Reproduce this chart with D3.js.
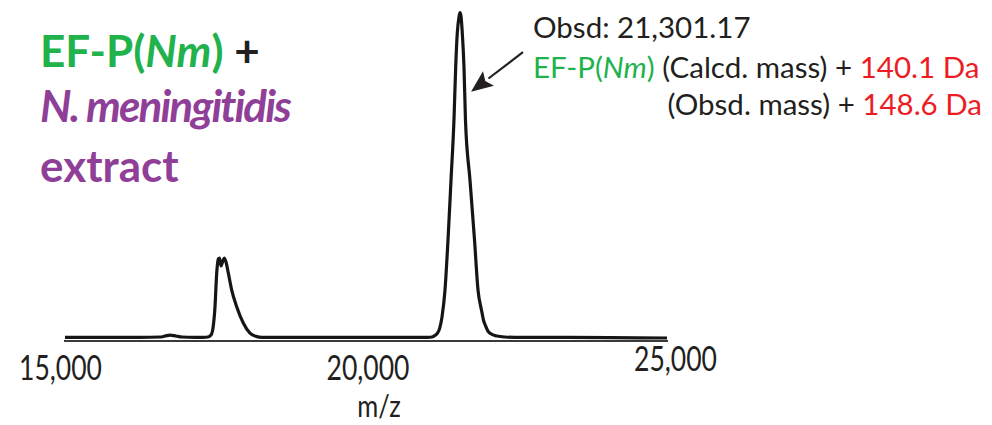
<!DOCTYPE html>
<html lang="en">
<head>
    <meta charset="UTF-8">
    <title>EF-P(Nm) + N. meningitidis extract - mass spectrum</title>
    <script src="https://d3js.org/d3.v7.min.js"></script>
    <style>
        body { margin: 0; background: #fff; }
        text { font-family: Lato, "Open Sans", sans-serif; fill: #231f20; }
        .trace { fill: none; stroke: #151515; stroke-width: 3.2px; stroke-linejoin: round; }
        .baseline { stroke: #3a3a3a; stroke-width: 2px; }
        .tick-label { font-size: 34px; }
    </style>
</head>
<body>
    <svg width="992" height="425"></svg>
    <script>
        // deconvoluted spectrum (m/z, relative intensity)
        const mz = [
            15081, 15650, 16301, 16626, 16707, 16789, 16886, 16984, 17195, 17325,
            17406, 17455, 17488, 17520, 17548, 17574, 17593, 17618, 17642, 17671,
            17699, 17737, 17792, 17873, 17980, 18089, 18187, 18285, 18902, 19715,
            20528, 20984, 21049, 21098, 21138, 21171, 21211, 21260, 21309, 21358,
            21406, 21434, 21460, 21488, 21504, 21520, 21541, 21569, 21593, 21666,
            21740, 21797, 21853, 21886, 21927, 21959, 22024, 22106, 22236, 22398,
            23130, 23943, 24870
        ];
        const intensity = [
            0.2, 0.2, 0.2, 0.3, 0.6, 0.9, 0.6, 0.3, 0.2, 0.2,
            0.3, 0.9, 3.1, 9.5, 19.9, 24.2, 24.5, 22.1, 23.3, 24.5,
            23.3, 19.9, 14.7, 9.6, 4.6, 1.5, 0.5, 0.2, 0.2, 0.2,
            0.2, 0.2, 0.3, 0.8, 1.5, 2.8, 6.4, 14.7, 30.1, 48.5,
            66.9, 83.1, 93.6, 98.5, 99.8, 98.8, 93.6, 83.1, 66.9, 48.5,
            30.1, 14.7, 8.6, 5.5, 3.4, 2.1, 1.1, 0.6, 0.3, 0.2,
            0.2, 0.1, 0.0
        ];
        const tickValues = [15000, 20000, 25000];
        const tickLabels = ["15,000", "20,000", "25,000"];

        // arrow: from tail to head, in data units
        const arrowTail = [22528, 87.7];
        const arrowHead = [21683, 75.5];

        const svg = d3.select("svg"),
            width = +svg.attr("width"),
            height = +svg.attr("height");

        const x = d3.scaleLinear().domain([15000, 25000]).range([60, 675]);
        const y = d3.scaleLinear().domain([0, 100]).range([338, 12]);

        const points = mz.map((m, i) => [m, intensity[i]]);

        svg.append("rect").attr("width", width).attr("height", height).attr("fill", "#fff");

        // baseline under the trace
        svg.append("line")
            .attr("class", "baseline")
            .attr("x1", x(mz[0]) - 1)
            .attr("x2", x(mz[mz.length - 1]) + 1)
            .attr("y1", y(0) + 3)
            .attr("y2", y(0) + 3);

        const line = d3.line()
            .x(d => x(d[0]))
            .y(d => y(d[1]))
            .curve(d3.curveMonotoneX);

        svg.append("path")
            .datum(points)
            .attr("class", "trace")
            .attr("d", line);

        // tick labels (narrow, tall lettering like the original)
        const axis = d3.axisBottom(x)
            .tickValues(tickValues)
            .tickFormat((d, i) => tickLabels[i])
            .tickSize(0)
            .tickPadding(0);

        const gx = svg.append("g")
            .attr("transform", "translate(0,380)")
            .call(axis);
        gx.select(".domain").remove();
        gx.selectAll("text")
            .attr("class", "tick-label")
            .attr("dy", 0)
            .attr("y", 0)
            .attr("transform", "scale(0.78,1)")
            .style("fill", "#231f20");
        gx.selectAll(".tick").filter(d => d === 25000).select("text").attr("y", -9);

        svg.append("text")
            .attr("transform", "translate(379,417) scale(0.85,1)")
            .attr("text-anchor", "middle")
            .style("font-size", "30px")
            .text("m/z");

        // arrow
        const ax1 = x(arrowTail[0]), ay1 = y(arrowTail[1]);
        const ax2 = x(arrowHead[0]), ay2 = y(arrowHead[1]);
        const ang = Math.atan2(ay2 - ay1, ax2 - ax1);
        const headLen = 22, headW = 9;
        const bx = ax2 - headLen * Math.cos(ang), by = ay2 - headLen * Math.sin(ang);
        svg.append("line")
            .attr("x1", ax1).attr("y1", ay1)
            .attr("x2", bx).attr("y2", by)
            .attr("stroke", "#231f20")
            .attr("stroke-width", 2.2);
        svg.append("path")
            .attr("d", d3.line()([
                [ax2, ay2],
                [bx + headW * Math.sin(ang), by - headW * Math.cos(ang)],
                [bx + 4 * Math.cos(ang), by + 4 * Math.sin(ang)],
                [bx - headW * Math.sin(ang), by + headW * Math.cos(ang)]
            ]) + "Z")
            .attr("fill", "#231f20");

        // annotation
        const green = "#22b24c", red = "#ed1c24", purple = "#8f3f97";
        const note = svg.append("g").style("font-size", "29.5px");
        note.append("text").attr("x", 533).attr("y", 38).text("Obsd: 21,301.17");
        const l2 = note.append("text").attr("x", 533).attr("y", 78);
        l2.append("tspan").style("fill", green).text("EF-P(");
        l2.append("tspan").style("fill", green).style("font-style", "italic").text("Nm");
        l2.append("tspan").style("fill", green).text(")");
        l2.append("tspan").text(" (Calcd. mass) + ");
        l2.append("tspan").style("fill", red).text("140.1 Da");
        const l3 = note.append("text").attr("x", 982).attr("y", 115).attr("text-anchor", "end");
        l3.append("tspan").text("(Obsd. mass) + ");
        l3.append("tspan").style("fill", red).text("148.6 Da");

        // title
        const title = svg.append("g").style("font-size", "44px").style("font-weight", "bold");
        const t1 = title.append("text").attr("x", 40).attr("y", 67);
        t1.append("tspan").style("fill", green).text("EF-P(");
        t1.append("tspan").style("fill", green).style("font-style", "italic").text("Nm");
        t1.append("tspan").style("fill", green).text(")");
        t1.append("tspan").text(" +");
        title.append("text").attr("x", 40).attr("y", 122)
            .style("fill", purple).style("font-style", "italic")
            .style("letter-spacing", "-1.9px")
            .text("N. meningitidis");
        title.append("text").attr("x", 40).attr("y", 182)
            .style("fill", purple)
            .text("extract");
    </script>
</body>
</html>
